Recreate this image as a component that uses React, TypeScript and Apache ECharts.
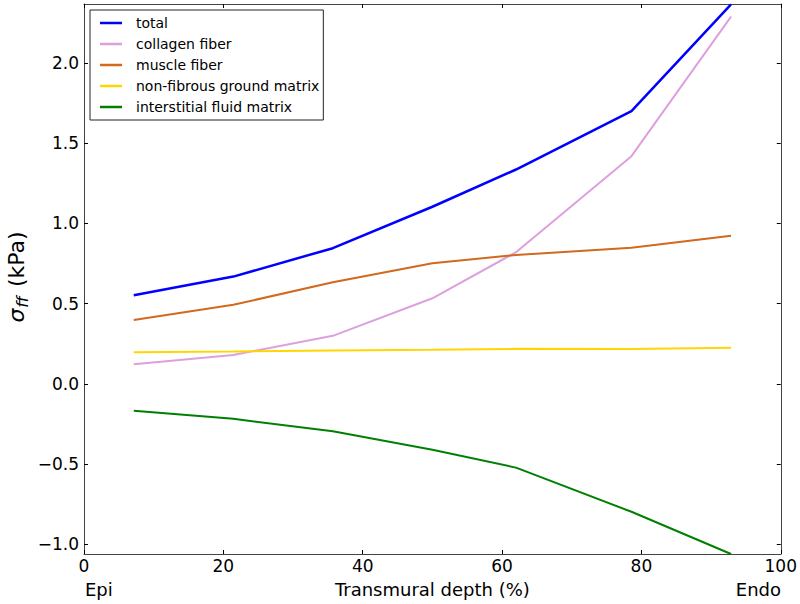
import React, { useEffect, useRef } from 'react';
import * as echarts from 'echarts';

const depth = [7.14, 21.43, 35.71, 50, 62, 78.57, 92.86];
const total = [0.552, 0.668, 0.845, 1.103, 1.335, 1.699, 2.364];
const collagen = [0.122, 0.18, 0.299, 0.533, 0.82, 1.418, 2.287];
const muscle = [0.398, 0.492, 0.633, 0.751, 0.803, 0.847, 0.923];
const ground = [0.197, 0.201, 0.207, 0.212, 0.218, 0.217, 0.225];
const fluid = [-0.168, -0.218, -0.295, -0.411, -0.522, -0.797, -1.06];

const seriesNames = ['total', 'collagen fiber', 'muscle fiber', 'non-fibrous ground matrix', 'interstitial fluid matrix'];
const seriesColors = ['#0000ff', '#dda0dd', '#d2691e', '#ffd700', '#008000'];
const seriesWidths = [2.5, 2, 2, 2, 2];
const yTicks = [-1, -0.5, 0, 0.5, 1, 1.5, 2];
const yMin = -1.06;
const yMax = 2.366;

const FONT = 'DejaVu Sans';

export default function App() {
  const ref = useRef<HTMLDivElement>(null);
  useEffect(() => {
    if (!ref.current) return;
    const chart = echarts.init(ref.current, undefined, { renderer: 'svg' });
    const values = [total, collagen, muscle, ground, fluid];
    const fmtY = (v: number) => v.toFixed(1).replace('-', '\u2212');
    const axisLine = { show: true, onZero: false, lineStyle: { color: '#444', width: 1 } };
    const tickStyle = { inside: true, length: 4, lineStyle: { color: '#000', width: 1 } };
    chart.setOption({
      animation: false,
      grid: { left: 84, right: 19, top: 4, bottom: 50, containLabel: false },
      legend: {
        orient: 'vertical',
        left: 90,
        top: 10,
        icon: 'rect',
        itemWidth: 22,
        itemHeight: 2.5,
        itemGap: 7,
        padding: [6, 4, 6, 10],
        borderColor: '#222',
        borderWidth: 1,
        selectedMode: false,
        textStyle: { fontSize: 14, fontFamily: FONT, color: '#000', padding: [0, 0, 0, 9] },
        data: seriesNames,
      },
      xAxis: [
        {
          type: 'value',
          min: 0,
          max: 100,
          interval: 20,
          position: 'bottom',
          axisLine,
          axisTick: tickStyle,
          splitLine: { show: false },
          axisLabel: { fontSize: 17, fontFamily: FONT, color: '#000', margin: 3 },
          name: 'Transmural depth (%)',
          nameLocation: 'middle',
          nameGap: 26,
          nameTextStyle: { fontSize: 18, fontFamily: FONT, color: '#000', verticalAlign: 'top' },
        },
        {
          type: 'value',
          min: 0,
          max: 100,
          interval: 20,
          position: 'top',
          axisLine,
          axisTick: tickStyle,
          splitLine: { show: false },
          axisLabel: { show: false },
        },
      ],
      yAxis: [
        {
          type: 'value',
          min: yMin,
          max: yMax,
          position: 'left',
          axisLine,
          axisTick: { ...tickStyle, customValues: yTicks },
          splitLine: { show: false },
          axisLabel: {
            customValues: yTicks,
            formatter: fmtY,
            fontSize: 17,
            fontFamily: FONT,
            color: '#000',
            margin: 5,
          },
        },
        {
          type: 'value',
          min: yMin,
          max: yMax,
          position: 'right',
          axisLine,
          axisTick: { ...tickStyle, customValues: yTicks },
          splitLine: { show: false },
          axisLabel: { show: false, customValues: yTicks },
        },
      ],
      graphic: [
        {
          type: 'text',
          left: 85,
          top: 580,
          style: { text: 'Epi', fontSize: 18, fontFamily: FONT, fill: '#000' },
        },
        {
          type: 'text',
          right: 19,
          top: 580,
          style: { text: 'Endo', fontSize: 18, fontFamily: FONT, fill: '#000' },
        },
        {
          type: 'text',
          x: 16,
          y: 277,
          rotation: Math.PI / 2,
          style: {
            text: '{s|σ}{sub|ff} (kPa)',
            align: 'center',
            verticalAlign: 'middle',
            fontSize: 22,
            fontFamily: FONT,
            fill: '#000',
            rich: {
              s: { fontSize: 22, fontStyle: 'italic', fontFamily: FONT, fill: '#000' },
              sub: { fontSize: 16, fontStyle: 'italic', fontFamily: FONT, fill: '#000', padding: [12, 2, 0, 1] },
            },
          },
        },
      ],
      series: values.map((vals, i) => ({
        name: seriesNames[i],
        type: 'line',
        xAxisIndex: 0,
        yAxisIndex: 0,
        symbol: 'none',
        showSymbol: false,
        color: seriesColors[i],
        lineStyle: { color: seriesColors[i], width: seriesWidths[i] },
        data: depth.map((d, j) => [d, vals[j]]),
        clip: false,
      })),
    });
    return () => chart.dispose();
  }, []);
  return (
    <div
      ref={ref}
      style={{ position: 'fixed', left: 0, top: 0, width: 800, height: 604, background: '#fff' }}
    />
  );
}
